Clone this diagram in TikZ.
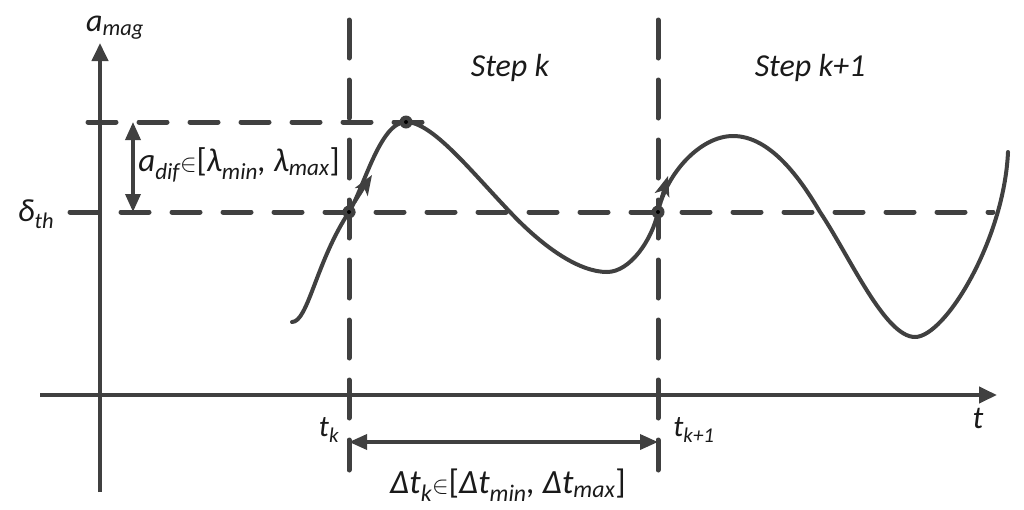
\documentclass[tikz,border=0pt]{standalone}
\usepackage{fontspec}
\setmainfont{Carlito}
\usetikzlibrary{arrows.meta}
\definecolor{ln}{HTML}{404040}
\definecolor{tx}{HTML}{1A1A1A}
\newcommand\sbs[1]{\textsubscript{#1}}
\newcommand\ub[1]{\textup{#1}}
\tikzset{
 axisline/.style={line width=4pt, draw=ln, -{Triangle[length=18pt,width=16pt]}},
 hguide/.style={line width=5pt, draw=ln, line cap=round, dash pattern=on 28pt off 23pt},
 vguide/.style={line width=5pt, draw=ln, line cap=round, dash pattern=on 38pt off 22pt},
 curveline/.style={line width=4pt, draw=ln, line cap=round, line join=round},
 dimline/.style={line width=3.5pt, draw=ln, {Triangle[length=18pt,width=15pt]}-{Triangle[length=18pt,width=15pt]}},
 curvearrow/.style={line width=3pt, draw=ln, -{Stealth[length=20pt,width=15pt,inset=5pt]}},
 lbl/.style={text=tx, inner sep=0pt, font=\fontsize{#1}{#1}\selectfont\itshape},
 lbl/.default=30,
}
\begin{document}
\begin{tikzpicture}[x=1pt,y=-1pt]
\useasboundingbox (0,0) rectangle (1024,509);
% coordinates
\coordinate (ybot) at (100,492);
\coordinate (ytop) at (100,43);
\coordinate (xl) at (40,395);
\coordinate (xr) at (997,395);
\coordinate (upL) at (88,122);
\coordinate (upR) at (430,122);
\coordinate (thL) at (70,212);
\coordinate (thR) at (993,212);
\coordinate (v1t) at (349,20);
\coordinate (v1b) at (349,470);
\coordinate (v2t) at (658,20);
\coordinate (v2b) at (658,470);
\coordinate (c1) at (349,212);
\coordinate (pk) at (406,122);
\coordinate (c2) at (658,212);
\coordinate (dA) at (133,122);
\coordinate (dB) at (133,212);
\coordinate (tA) at (349,442);
\coordinate (tB) at (658,442);
% axes
\draw[axisline] (ybot) -- (ytop);
\draw[axisline] (xl) -- (xr);
% guides
\draw[hguide] (upL) -- (upR);
\draw[hguide] (thL) -- (thR);
\draw[vguide] (v1t) -- (v1b);
\draw[vguide] (v2t) -- (v2b);
% curve
\draw[curveline] (292,322)
 .. controls (308,322) and (316,262) .. (c1)
 .. controls (364,188) and (380,122) .. (pk)
 .. controls (432,122) and (470,170) .. (510,212)
 .. controls (545,249) and (580,272) .. (607,272)
 .. controls (630,272) and (652,240) .. (c2)
 .. controls (666,174) and (700,136) .. (733,136)
 .. controls (770,136) and (800,178) .. (820,212)
 .. controls (850,257) and (885,337) .. (915,337)
 .. controls (945,337) and (1004,240) .. (1008,152);
% arrows on curve
\draw[curvearrow] (355,202) -- (372,175);
\draw[curvearrow] (659,205) -- (668,176);
% markers
\foreach \p in {c1,pk,c2}{
 \fill[ln] (\p) circle (6.5pt);
 \fill[black] (\p) circle (2pt);
}
% dimensions
\draw[dimline] (dA) -- (dB);
\draw[dimline] (tA) -- (tB);
% labels
\node[lbl=32] (amag) at (115,28) {a\sbs{mag}};
\node[lbl=32] (dth) at (36,214) {δ\sbs{th}};
\node[lbl=33] (adif) at (239,165) {a\sbs{dif}$\in$\ub{[}λ\sbs{min}, λ\sbs{max}\ub{]}};
\node[lbl=32] (stepk) at (510,68) {Step k};
\node[lbl=32] (stepk1) at (810,68) {Step k+1};
\node[lbl=30] (tk) at (329,430) {t\sbs{k}};
\node[lbl=30] (tk1) at (694,430) {t\sbs{k+1}};
\node[lbl=32] (tt) at (978,418) {t};
\node[lbl=34] (dt) at (508,485) {Δt\sbs{k}$\in$\ub{[}Δt\sbs{min}, Δt\sbs{max}\ub{]}};
\end{tikzpicture}
\end{document}
